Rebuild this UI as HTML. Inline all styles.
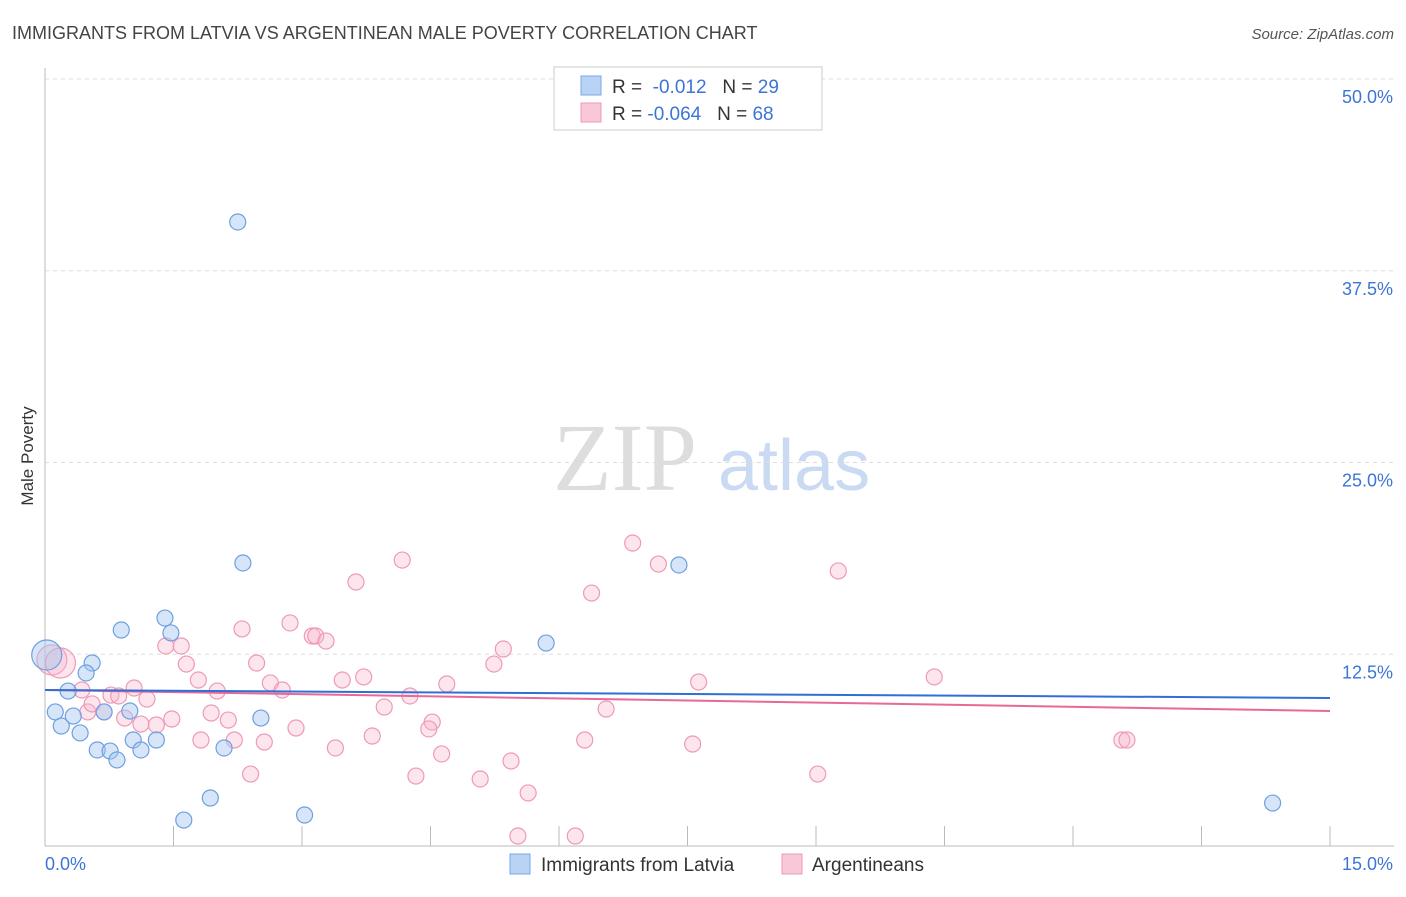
<!DOCTYPE html>
<html><head><meta charset="utf-8"><style>
body{margin:0;background:#fff;font-family:"Liberation Sans",sans-serif;}
</style></head><body>
<svg id="chart" width="1406" height="892" xmlns="http://www.w3.org/2000/svg" font-family="Liberation Sans, sans-serif">
<text x="12" y="39" font-size="18" fill="#444">IMMIGRANTS FROM LATVIA VS ARGENTINEAN MALE POVERTY CORRELATION CHART</text>
<text x="1394" y="39" font-size="15" fill="#555" text-anchor="end" font-style="italic">Source: ZipAtlas.com</text>
<text transform="translate(33,456) rotate(-90)" font-size="17" fill="#333" text-anchor="middle">Male Poverty</text>
<text x="553" y="490" font-size="96" fill="#ddd" font-family="Liberation Serif, serif">ZIP</text>
<text x="718" y="490" font-size="72" fill="#c9daf2">atlas</text>
<g id="grid"></g><g id="pts"></g><g id="lines"></g>
<g>
<rect x="554" y="67" width="268" height="63" fill="#fff" stroke="#ccc"/>
<rect x="581" y="76" width="20" height="19" fill="#b9d3f5" stroke="#7aa8e6"/>
<rect x="581" y="103" width="20" height="19" fill="#f9c8d8" stroke="#ee9ab5"/>
<text x="612" y="93" font-size="19" fill="#333">R = <tspan fill="#3d75d6">&#160;-0.012</tspan>&#160;&#160;&#160;N = <tspan fill="#3d75d6">29</tspan></text>
<text x="612" y="120" font-size="19" fill="#333">R = <tspan fill="#3d75d6">-0.064</tspan>&#160;&#160;&#160;N = <tspan fill="#3d75d6">68</tspan></text>
</g>
<g>
<rect x="510" y="854" width="20" height="20" fill="#b9d3f5" stroke="#7aa8e6"/>
<text x="541" y="871" font-size="19" fill="#333">Immigrants from Latvia</text>
<rect x="782" y="854" width="20" height="20" fill="#f9c8d8" stroke="#ee9ab5"/>
<text x="812" y="871" font-size="19" fill="#333">Argentineans</text>
</g>
</svg>
<script>
const xTicks=[0,1.5,3,4.5,6,7.5,9,10.5,12,13.5,15];
const yTicks=[12.5,25,37.5,50];
const yTickLabels=["12.5%","25.0%","37.5%","50.0%"];
const latviaX=[2.25,2.31,7.40,5.85,1.40,1.47,0.89,0.55,0.48,0.27,0.12,0.19,0.33,0.41,0.69,0.99,0.61,0.76,0.84,1.03,1.12,1.30,2.09,2.52,1.93,1.62,3.03,14.33,0.02];
const latviaY=[40.68,18.45,18.32,13.23,14.86,13.89,14.08,11.93,11.28,10.10,8.74,7.82,8.47,7.37,8.74,8.80,6.26,6.19,5.61,6.91,6.26,6.91,6.39,8.34,3.13,1.69,2.02,2.80,12.45];
const latviaR=[8,8,8,8,8,8,8,8,8,8,8,8,8,8,8,8,8,8,8,8,8,8,8,8,8,8,8,8,15];
const argX=[6.86,4.17,7.16,9.26,3.63,6.38,2.30,2.86,3.12,3.16,3.28,1.41,1.59,5.35,1.65,2.47,5.24,0.08,0.18,3.47,3.72,2.63,2.77,1.79,2.01,1.04,0.43,0.77,0.86,1.19,4.26,4.69,7.63,10.38,0.69,0.50,0.55,3.96,1.94,6.55,0.93,1.12,1.30,1.48,2.14,2.93,4.52,4.48,1.82,2.21,2.56,3.82,6.30,7.56,12.57,12.63,3.39,4.63,2.40,4.33,5.08,5.44,9.02,5.64,5.52,6.19];
const argY=[19.75,18.64,18.38,17.93,17.21,16.49,14.15,14.54,13.69,13.69,13.36,13.04,13.04,12.84,11.86,11.93,11.86,12.13,11.93,10.82,11.02,10.63,10.17,10.82,10.10,10.30,10.17,9.84,9.78,9.58,9.78,10.56,10.69,11.02,8.74,8.74,9.26,9.06,8.67,8.93,8.34,7.95,7.89,8.28,8.21,7.69,8.08,7.63,6.91,6.91,6.78,7.17,6.91,6.65,6.91,6.91,6.39,6.00,4.69,4.56,4.37,5.54,4.69,3.46,0.65,0.65];
const argBig=[17,18];
const latviaTrend=[10.17,9.65];
const argTrend=[10.17,8.80];
const NS="http://www.w3.org/2000/svg";
const X=v=>45+v/15*1285, Y=v=>846-v/50*767;
function mk(tag,attrs,parent){const e=document.createElementNS(NS,tag);for(const k in attrs)e.setAttribute(k,attrs[k]);parent.appendChild(e);return e;}
const grid=document.getElementById('grid'),pts=document.getElementById('pts'),lines=document.getElementById('lines');
let ax=mk('line',{x1:45,y1:68,x2:45,y2:846,stroke:'#bbb'},grid);


let bx=mk('line',{x1:45,y1:846,x2:1394,y2:846,stroke:'#bbb'},grid);


yTicks.forEach((t,i)=>{
 let g=mk('line',{x1:45,x2:1394,y1:Y(t),y2:Y(t),stroke:'#ddd','stroke-dasharray':'4,4'},grid);
 
 
 let l=mk('text',{x:1393,y:Y(t)+24,'font-size':18,fill:'#3d75d6','text-anchor':'end'},grid);l.textContent=yTickLabels[i];
 
 
});
xTicks.forEach(t=>{let k=mk('line',{x1:X(t),x2:X(t),y1:826,y2:846,stroke:'#bbb'},grid);
 
 });
let x0=mk('text',{x:45,y:870,'font-size':18,fill:'#3d75d6'},grid);x0.textContent='0.0%';


let x1=mk('text',{x:1393,y:870,'font-size':18,fill:'#3d75d6','text-anchor':'end'},grid);x1.textContent='15.0%';


argX.forEach((v,i)=>{let c=mk('circle',{cx:X(v),cy:Y(argY[i]),r:argBig.includes(i)?15:8,fill:'rgba(246,180,202,0.35)',stroke:'#ee9ab5','stroke-width':1.2},pts);
 
 });
latviaX.forEach((v,i)=>{let c=mk('circle',{cx:X(v),cy:Y(latviaY[i]),r:latviaR[i],fill:'rgba(165,199,240,0.45)',stroke:'#6f9fe0','stroke-width':1.2},pts);
 
 });
let t1=mk('line',{x1:X(0),y1:Y(argTrend[0]),x2:X(15),y2:Y(argTrend[1]),stroke:'#e8689a','stroke-width':2},lines);


let t2=mk('line',{x1:X(0),y1:Y(latviaTrend[0]),x2:X(15),y2:Y(latviaTrend[1]),stroke:'#2f6fd6','stroke-width':2},lines);


</script>
</body></html>
